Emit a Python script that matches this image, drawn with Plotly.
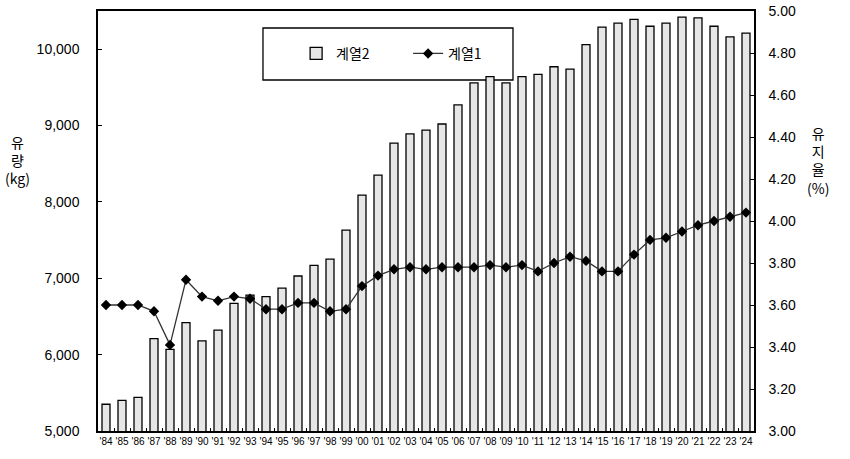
import plotly.graph_objects as go

# 연도 (x축 카테고리)
years = ["'84", "'85", "'86", "'87", "'88", "'89", "'90", "'91", "'92", "'93",
         "'94", "'95", "'96", "'97", "'98", "'99", "'00", "'01", "'02", "'03",
         "'04", "'05", "'06", "'07", "'08", "'09", "'10", "'11", "'12", "'13",
         "'14", "'15", "'16", "'17", "'18", "'19", "'20", "'21", "'22", "'23", "'24"]

# 계열2: 유량 (kg) - 막대
milk_yield = [5350, 5400, 5440, 6210, 6070, 6420, 6180, 6320, 6670, 6780,
              6760, 6870, 7030, 7170, 7250, 7630, 8090, 8350, 8770, 8890,
              8940, 9020, 9270, 9560, 9640, 9560, 9640, 9670, 9770, 9740,
              10060, 10290, 10340, 10390, 10300, 10340, 10420, 10410, 10300, 10160, 10210]

# 계열1: 유지율 (%) - 꺾은선
fat_rate = [3.60, 3.60, 3.60, 3.57, 3.41, 3.72, 3.64, 3.62, 3.64, 3.63,
            3.58, 3.58, 3.61, 3.61, 3.57, 3.58, 3.69, 3.74, 3.77, 3.78,
            3.77, 3.78, 3.78, 3.78, 3.79, 3.78, 3.79, 3.76, 3.80, 3.83,
            3.81, 3.76, 3.76, 3.84, 3.91, 3.92, 3.95, 3.98, 4.00, 4.02, 4.04]

left_ticks = [5000, 6000, 7000, 8000, 9000, 10000]
right_ticks = [3.0, 3.2, 3.4, 3.6, 3.8, 4.0, 4.2, 4.4, 4.6, 4.8, 5.0]

FONT = "Liberation Sans"
KFONT = "Noto Sans CJK KR"

fig = go.Figure()
fig.add_trace(go.Bar(
    x=years, y=milk_yield, name="계열2",
    marker=dict(color="#e6e6e6", line=dict(color="black", width=1.3)),
    width=0.5, yaxis="y",
))
fig.add_trace(go.Scatter(
    x=years, y=fat_rate, name="계열1", mode="lines+markers",
    line=dict(color="#333333", width=1.3),
    marker=dict(symbol="diamond", size=8, color="black"),
    yaxis="y2",
))

# 범례 상자
fig.add_shape(type="rect", xref="paper", yref="paper",
              x0=0.2515, x1=0.6326, y0=0.8357, y1=0.9595,
              line=dict(color="black", width=1.3), fillcolor="white", layer="below")

# 세로 축 제목
fig.add_annotation(text="유<br>량<br>(kg)", xref="paper", yref="paper",
                   x=-0.122, y=0.645, xanchor="center", yanchor="middle",
                   showarrow=False, align="center",
                   font=dict(family=KFONT, size=14, color="black"))
fig.add_annotation(text="유<br>지<br>율<br>(%)", xref="paper", yref="paper",
                   x=1.0976, y=0.645, xanchor="center", yanchor="middle",
                   showarrow=False, align="center",
                   font=dict(family=KFONT, size=14, color="black"))

fig.update_layout(
    width=850, height=459,
    margin=dict(l=98, r=96, t=11, b=28, autoexpand=False),
    paper_bgcolor="white", plot_bgcolor="white",
    showlegend=True,
    legend=dict(orientation="h", x=0.302, y=0.898, xanchor="left", yanchor="middle",
                bgcolor="rgba(0,0,0,0)", font=dict(family=KFONT, size=14, color="black"),
                itemwidth=30, entrywidth=67, traceorder="normal"),
    xaxis=dict(type="category", range=[-0.5, len(years) - 0.5],
               showline=True, linecolor="black", linewidth=1.5,
               mirror=True, ticks="inside", tickson="boundaries", ticklen=3,
               tickcolor="black", tickfont=dict(family=FONT, size=10, color="black"),
               tickangle=0, showgrid=False, automargin=False),
    yaxis=dict(range=[5000, 10500], tickvals=left_ticks, tickformat=",d",
               showline=True, linecolor="black", linewidth=1.5, ticks="inside", ticklen=4,
               tickcolor="black", showgrid=False, zeroline=False, automargin=False,
               ticklabelstandoff=14,
               tickfont=dict(family=FONT, size=14, color="black")),
    yaxis2=dict(range=[3.0, 5.0], tickvals=right_ticks, tickformat=".2f",
                overlaying="y", side="right", showline=True, linecolor="black", linewidth=1.5,
                ticks="inside", ticklen=4, tickcolor="black", showgrid=False, zeroline=False,
                automargin=False, ticklabelstandoff=10,
                tickfont=dict(family=FONT, size=14, color="black")),
)

# 페이지 기본 여백 제거, 모드바 숨김
fig.write_html("out.html", config={"displayModeBar": False},
               post_script="document.body.style.margin='0';")
